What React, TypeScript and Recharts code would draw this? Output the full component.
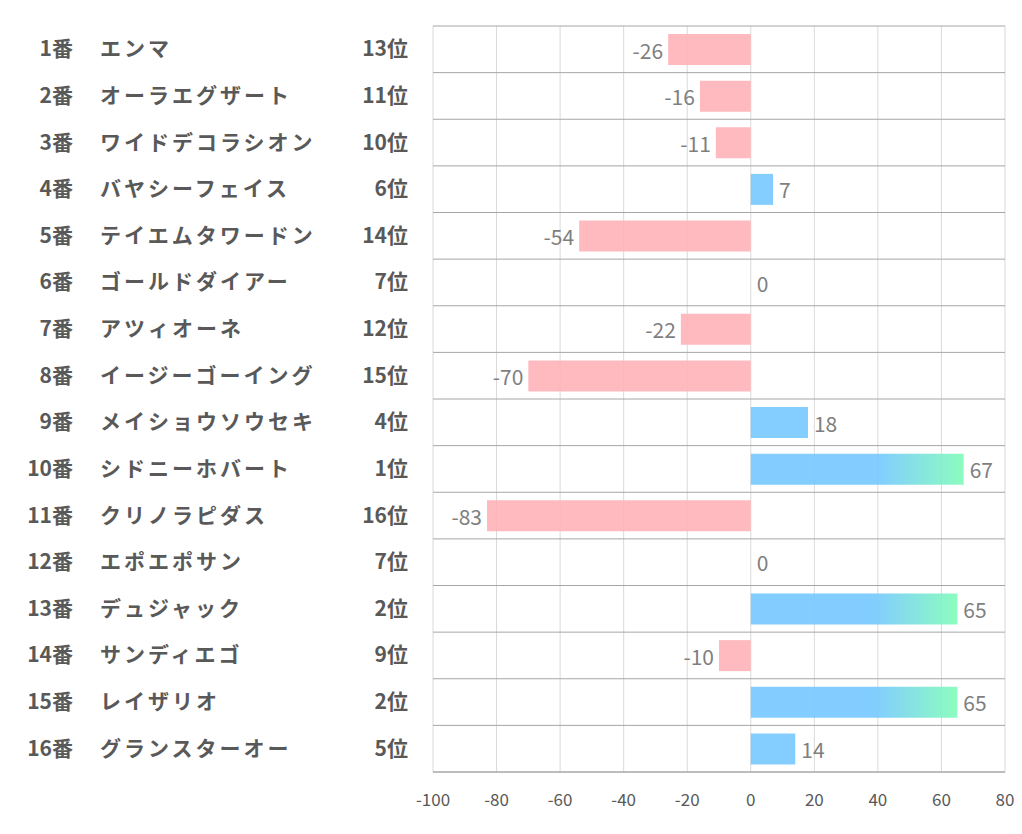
import { Bar, BarChart, CartesianGrid, Cell, LabelList, XAxis, YAxis } from "recharts";

const horseNumbers = ["1番", "2番", "3番", "4番", "5番", "6番", "7番", "8番", "9番", "10番", "11番", "12番", "13番", "14番", "15番", "16番"];
const horseNames = [
  "エンマ",
  "オーラエグザート",
  "ワイドデコラシオン",
  "バヤシーフェイス",
  "テイエムタワードン",
  "ゴールドダイアー",
  "アツィオーネ",
  "イージーゴーイング",
  "メイショウソウセキ",
  "シドニーホバート",
  "クリノラピダス",
  "エポエポサン",
  "デュジャック",
  "サンディエゴ",
  "レイザリオ",
  "グランスターオー",
];
const ranks = ["13位", "11位", "10位", "6位", "14位", "7位", "12位", "15位", "4位", "1位", "16位", "7位", "2位", "9位", "2位", "5位"];
const scores = [-26, -16, -11, 7, -54, 0, -22, -70, 18, 67, -83, 0, 65, -10, 65, 14];
const xTicks = [-100, -80, -60, -40, -20, 0, 20, 40, 60, 80];

const data = horseNames.map((name, i) => ({ name, score: scores[i] }));

const ROWS = horseNames.length;
const LABEL_COLOR = "#595959";
const FONT = "'Noto Sans CJK JP', 'Noto Sans', sans-serif";

function barFill(v: number) {
  if (v < 0) return "#ffb3b8";
  if (v >= 60) return "url(#topGrad)";
  return "#75c8ff";
}

function HorseTick({ x, y, index }: { x?: number; y?: number; index?: number }) {
  if (x === undefined || y === undefined || index === undefined) return null;
  const ty = y - 2;
  return (
    <g fontFamily={FONT} fontWeight="bold" fontSize={21} fill={LABEL_COLOR}>
      <text x={73} y={ty} textAnchor="end" dominantBaseline="central">
        {horseNumbers[index]}
      </text>
      <text x={100} y={ty} dominantBaseline="central" letterSpacing={3}>
        {horseNames[index]}
      </text>
      <text x={408} y={ty} textAnchor="end" dominantBaseline="central">
        {ranks[index]}
      </text>
    </g>
  );
}

// value label sits outside the bar end, left for negatives and right otherwise
function ValueLabel(props: any) {
  const { x, y, width, height, value } = props;
  const left = Math.min(x, x + width);
  const right = Math.max(x, x + width);
  const cy = y + height / 2;
  const neg = value < 0;
  return (
    <text
      x={neg ? left - 5 : right + 6}
      y={cy}
      textAnchor={neg ? "end" : "start"}
      dominantBaseline="central"
      fontFamily={FONT}
      fontSize={21}
      fill="#7f7f7f"
    >
      {value}
    </text>
  );
}

export default function App() {
  return (
    <div style={{ position: "absolute", left: 0, top: 0, width: 1022, height: 834, background: "#fff" }}>
      <BarChart
        width={1022}
        height={834}
        data={data}
        layout="vertical"
        margin={{ top: 26, right: 17, bottom: 22, left: 0 }}
        barSize={31}
      >
        <defs>
          <linearGradient id="topGrad" x1="0" y1="0" x2="1" y2="0">
            <stop offset="0%" stopColor="#75c8ff" />
            <stop offset="60%" stopColor="#75c8ff" />
            <stop offset="100%" stopColor="#7ffcb8" />
          </linearGradient>
        </defs>
        <CartesianGrid vertical stroke="#d9d9d9" horizontal={false} />
        <CartesianGrid
          vertical={false}
          stroke="#a6a6a6"
          horizontalCoordinatesGenerator={({ offset }: any) =>
            Array.from({ length: ROWS + 1 }, (_, i) => offset.top + (i * offset.height) / ROWS)
          }
        />
        <XAxis
          type="number"
          domain={[-100, 80]}
          ticks={xTicks}
          interval={0}
          tickLine={false}
          axisLine={{ stroke: "#a6a6a6" }}
          tickMargin={16}
          height={40}
          tick={{ fill: LABEL_COLOR, fontSize: 17, fontFamily: FONT }}
        />
        <YAxis
          type="category"
          dataKey="name"
          width={433}
          axisLine={false}
          tickLine={false}
          interval={0}
          tick={<HorseTick />}
        />
        <Bar dataKey="score" isAnimationActive={false} fillOpacity={0.9} minPointSize={0.01}>
          {data.map((d, i) => (
            <Cell key={`c-${i}`} fill={barFill(d.score)} />
          ))}
          <LabelList dataKey="score" content={<ValueLabel />} />
        </Bar>
      </BarChart>
    </div>
  );
}
